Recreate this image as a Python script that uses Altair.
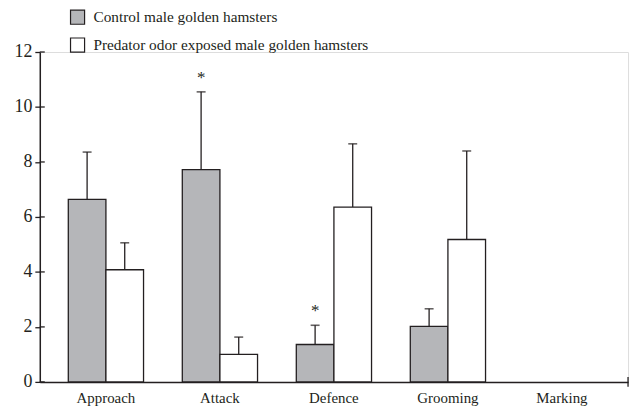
import altair as alt
import pandas as pd

categories = ["Approach", "Attack", "Defence", "Grooming", "Marking"]
groups = ["Control male golden hamsters", "Predator odor exposed male golden hamsters"]
control_mean = [6.64, 7.72, 1.36, 2.02, 0.0]
control_upper = [8.36, 10.55, 2.06, 2.66, None]
predator_mean = [4.08, 1.0, 6.36, 5.18, 0.0]
predator_upper = [5.06, 1.63, 8.66, 8.4, None]
control_sig = ["", "*", "*", "", ""]
predator_sig = ["", "", "", "", ""]
y_ticks = [0, 2, 4, 6, 8, 10, 12]

rows = []
for i, c in enumerate(categories):
    rows.append(dict(cat=c, group=groups[0], value=control_mean[i], upper=control_upper[i], sig=control_sig[i]))
    rows.append(dict(cat=c, group=groups[1], value=predator_mean[i], upper=predator_upper[i], sig=predator_sig[i]))
df = pd.DataFrame(rows)

FONT = "Liberation Serif"
INK = "#231f20"
W, H = 592, 332

x_enc = alt.X("cat:N", sort=categories, scale=alt.Scale(domain=categories, paddingInner=0.34, paddingOuter=0.25),
              axis=alt.Axis(title=None, labelAngle=0, ticks=False, labelPadding=9, labelFontSize=15))
xo_enc = alt.XOffset("group:N", sort=groups, scale=alt.Scale(domain=groups, paddingInner=0, paddingOuter=0))

base = alt.Chart(df).encode(x=x_enc, xOffset=xo_enc)

yscale = alt.Scale(domain=[0, 12])

bars = base.transform_filter("datum.value > 0").mark_bar(stroke=INK, strokeWidth=1.3).encode(
    y=alt.Y("value:Q", scale=yscale,
            axis=alt.Axis(title=None, values=y_ticks, grid=False, tickSize=5,
                          tickColor=INK, tickWidth=1.3, labelPadding=3, labelFontSize=18)),
    fill=alt.Fill("group:N", sort=groups,
                  scale=alt.Scale(domain=groups, range=["#b5b6b9", "#ffffff"]),
                  legend=alt.Legend(title=None, orient="none", legendX=30, legendY=-43,
                                    symbolType="square", symbolSize=200, symbolStrokeColor=INK,
                                    symbolStrokeWidth=1.2, rowPadding=8, labelOffset=8,
                                    labelFontSize=15.4)),
)

err = base.transform_filter("datum.upper != null").mark_rule(color=INK, strokeWidth=1.3).encode(
    y="value:Q", y2="upper:Q")
caps = base.transform_filter("datum.upper != null").mark_tick(color=INK, thickness=1.6, size=9, orient="horizontal").encode(
    y="upper:Q")
stars = base.transform_filter("datum.sig != ''").mark_text(font=FONT, fontSize=17, dy=-5, baseline="bottom", color=INK).encode(
    y="upper:Q", text="sig:N")

# inner half of the y-axis ticks (ticks cross the axis line in the reference)
inner_ticks = alt.Chart(pd.DataFrame({"t": y_ticks})).mark_rule(color=INK, strokeWidth=1.3).encode(
    y=alt.Y("t:Q", scale=yscale), x=alt.value(0), x2=alt.value(5))
# end tick of the x axis
end_tick = alt.Chart(pd.DataFrame({"t": [0]})).mark_rule(color=INK, strokeWidth=1.3).encode(
    x=alt.value(W), y=alt.value(H - 5), y2=alt.value(H + 5))

chart = alt.layer(bars, err, caps, stars, inner_ticks, end_tick).properties(
    width=W, height=H, padding={"left": 6, "top": 0, "right": 5, "bottom": 5}
).configure_view(stroke=None).configure(background="white").configure_axis(
    labelFont=FONT, labelColor=INK, domainColor=INK, domainWidth=1.5
).configure_legend(
    labelFont=FONT, labelColor=INK, labelLimit=0
)

chart.save("out.html", embed_options={"renderer": "svg", "actions": False})
